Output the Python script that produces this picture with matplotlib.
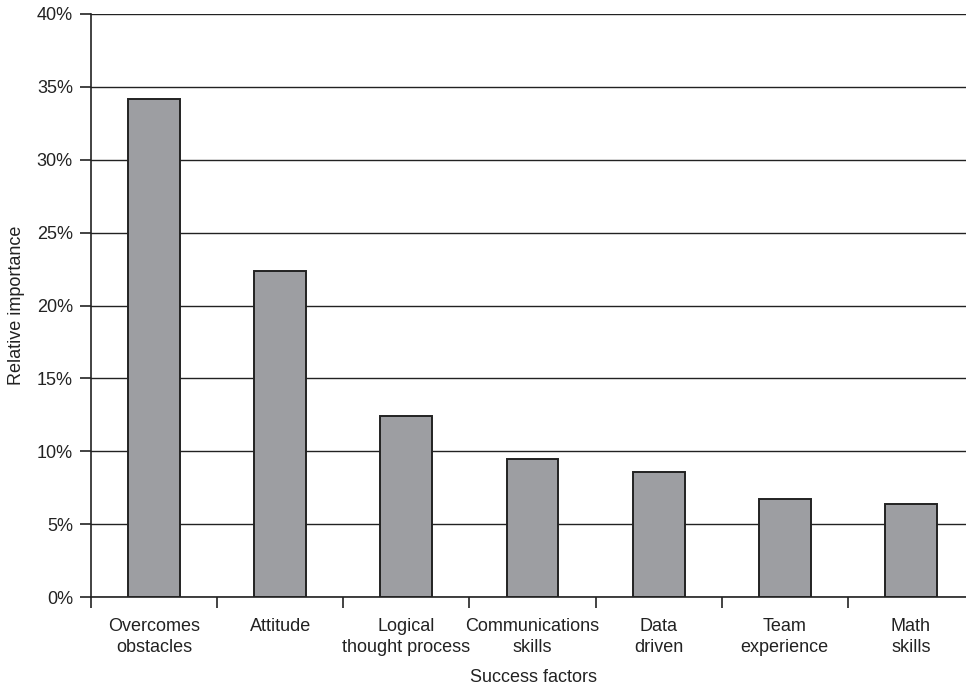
import numpy as np
import matplotlib.pyplot as plt
from matplotlib.ticker import FixedLocator, PercentFormatter

plt.rcParams['font.family'] = ['Liberation Sans', 'DejaVu Sans']

# data
factors = ['Overcomes\nobstacles', 'Attitude', 'Logical\nthought process',
           'Communications\nskills', 'Data\ndriven', 'Team\nexperience', 'Math\nskills']
importance = [34.2, 22.4, 12.45, 9.45, 8.55, 6.75, 6.35]
y_ticks = [0, 5, 10, 15, 20, 25, 30, 35, 40]

W, H = 966, 688
fig = plt.figure(figsize=(W / 100, H / 100), dpi=100)
# axes run a bit past the right edge of the picture, like the reference
left, right, top, bottom = 91, 974, 14, 597
ax = fig.add_axes([left / W, 1 - bottom / H, (right - left) / W, (bottom - top) / H])

x = np.arange(len(factors))
ax.bar(x, importance, width=0.41, color='#9d9ea2', edgecolor='#222222',
       linewidth=1.4, zorder=3)

ax.set_xlim(-0.5, len(factors) - 0.5)
ax.set_ylim(0, 40)
ax.set_yticks(y_ticks)
ax.yaxis.set_major_formatter(PercentFormatter(decimals=0))
ax.yaxis.grid(True, color='#222222', linewidth=1.0, zorder=0)

ax.set_xticks(x)
ax.set_xticklabels(factors, fontsize=13, linespacing=1.32, color='#222222')
ax.xaxis.set_minor_locator(FixedLocator(np.arange(len(factors)) - 0.5))
ax.tick_params(axis='x', which='major', length=0, pad=15)
ax.tick_params(axis='x', which='minor', length=8, width=1.2, color='#222222')
ax.tick_params(axis='y', length=8, width=1.2, color='#222222', labelsize=13,
               labelcolor='#222222', pad=5)

for s in ['top', 'right']:
    ax.spines[s].set_visible(False)
for s in ['left', 'bottom']:
    ax.spines[s].set_color('#222222')
    ax.spines[s].set_linewidth(1.2)

fig.text(17 / W, 1 - 305 / H, 'Relative importance', fontsize=13, rotation=90,
         ha='center', va='center', color='#222222')
fig.text(533 / W, 1 - 678 / H, 'Success factors', fontsize=13,
         ha='center', va='center', color='#222222')

fig.savefig('out.png', dpi=100)
